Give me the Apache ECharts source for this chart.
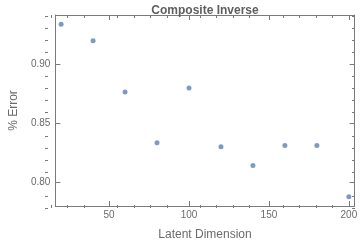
<!DOCTYPE html>
<html><head><meta charset="utf-8">
<script src="https://cdn.jsdelivr.net/npm/echarts@6/dist/echarts.min.js"></script>
<style>html,body{margin:0;padding:0;background:#fff}#c{width:360px;height:246px}</style>
</head><body><div id="c"></div>
<script>
const dims = [20, 40, 60, 80, 100, 120, 140, 160, 180, 200];
const errors = [0.9336, 0.9196, 0.8762, 0.8334, 0.8796, 0.8300, 0.8140, 0.8309, 0.8309, 0.7877];
const xMajor = [50, 100, 150, 200];
const xMinor = [20, 30, 40, 60, 70, 80, 90, 110, 120, 130, 140, 160, 170, 180, 190];
const yMajor = [0.80, 0.85, 0.90];
const yMinor = [0.78, 0.79, 0.81, 0.82, 0.83, 0.84, 0.86, 0.87, 0.88, 0.89, 0.91, 0.92, 0.93, 0.94];

const X_MIN = 16.4, X_MAX = 203.6, Y_MIN = 0.7798, Y_MAX = 0.9414;
const frame = '#7a7a7a', txt = '#6b6b6b', font = 'Liberation Sans';
const grid = {left: 45, right: 5, top: 15, bottom: 38};

function xAx(gi, pos, vals, len, labels, name) {
  return {
    type: 'value', gridIndex: gi, position: pos, min: X_MIN, max: X_MAX,
    name: name || '', nameLocation: 'middle', nameGap: 23,
    nameTextStyle: {color: txt, fontFamily: font, fontSize: 12},
    axisLine: {show: gi === 0, onZero: false, lineStyle: {color: frame, width: 1}},
    axisTick: {show: true, inside: true, length: len, customValues: vals, lineStyle: {color: frame, width: 1}},
    axisLabel: {show: labels, customValues: vals, color: txt, fontFamily: font, fontSize: 10, margin: 4},
    splitLine: {show: false}
  };
}
function yAx(gi, pos, vals, len, labels, name) {
  return {
    type: 'value', gridIndex: gi, position: pos, min: Y_MIN, max: Y_MAX,
    name: name || '', nameLocation: 'middle', nameGap: 33,
    nameTextStyle: {color: txt, fontFamily: font, fontSize: 12},
    axisLine: {show: gi === 0, onZero: false, lineStyle: {color: frame, width: 1}},
    axisTick: {show: true, inside: true, length: len, customValues: vals, lineStyle: {color: frame, width: 1}},
    axisLabel: {show: labels, customValues: vals, color: txt, fontFamily: font, fontSize: 10, margin: 5,
      formatter: v => v.toFixed(2)},
    splitLine: {show: false}
  };
}

const chart = echarts.init(document.getElementById('c'), null, {renderer: 'canvas'});
chart.setOption({
  animation: false,
  backgroundColor: '#fff',
  title: {text: 'Composite Inverse', left: 200, top: 0, textAlign: 'center',
    textStyle: {color: '#5f5f5f', fontFamily: font, fontSize: 12, fontWeight: 'bold'}},
  grid: [grid, Object.assign({}, grid)],
  xAxis: [
    xAx(0, 'bottom', xMajor, 5, true, 'Latent Dimension'),
    xAx(0, 'top', xMajor, 5, false),
    xAx(1, 'bottom', xMinor, 3, false),
    xAx(1, 'top', xMinor, 3, false)
  ],
  yAxis: [
    yAx(0, 'left', yMajor, 5, true, '% Error'),
    yAx(0, 'right', yMajor, 5, false),
    yAx(1, 'left', yMinor, 3, false),
    yAx(1, 'right', yMinor, 3, false)
  ],
  series: [{
    type: 'scatter', xAxisIndex: 0, yAxisIndex: 0,
    data: dims.map((d, i) => [d, errors[i]]),
    symbol: 'circle', symbolSize: 5,
    itemStyle: {color: '#5e81b5'}
  }]
});
</script></body></html>
